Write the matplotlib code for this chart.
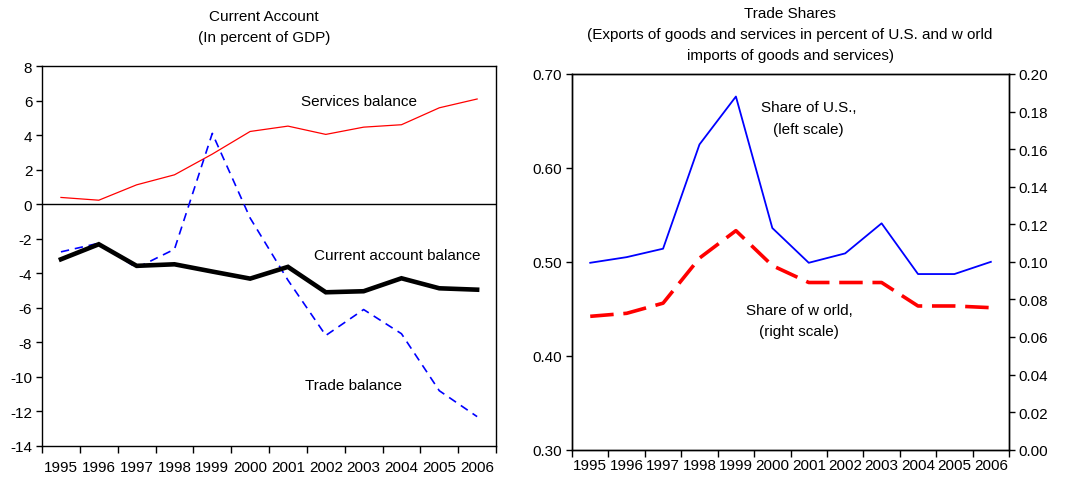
import numpy as np
import matplotlib
matplotlib.use("Agg")
import matplotlib.pyplot as plt

plt.rcParams['font.family'] = ['Liberation Sans', 'DejaVu Sans']
plt.rcParams['axes.unicode_minus'] = False

years = ['1995', '1996', '1997', '1998', '1999', '2000',
         '2001', '2002', '2003', '2004', '2005', '2006']

# left panel, percent of GDP
services_balance = [0.39, 0.23, 1.12, 1.70, 2.90, 4.21, 4.52, 4.04, 4.46, 4.60, 5.58, 6.09]
trade_balance = [-2.76, -2.26, -3.69, -2.61, 4.10, -0.80, -4.40, -7.60, -6.10, -7.50, -10.80, -12.30]
current_account = [-3.19, -2.32, -3.57, -3.48, -3.90, -4.31, -3.63, -5.10, -5.04, -4.29, -4.87, -4.95]

# right panel, trade shares
share_us = [0.499, 0.505, 0.514, 0.625, 0.676, 0.536, 0.499, 0.509, 0.541, 0.487, 0.487, 0.500]
share_world = [0.071, 0.0726, 0.078, 0.102, 0.1166, 0.098, 0.089, 0.089, 0.089, 0.0765, 0.0765, 0.0756]

x = np.arange(len(years))
FS = 11

fig = plt.figure(figsize=(10.67, 4.81), dpi=100)


def setup_xaxis(ax, pad):
    ax.set_xlim(-0.5, len(years) - 0.5)
    ax.set_xticks(np.arange(-0.5, len(years), 1.0))
    ax.set_xticklabels([])
    ax.set_xticks(x, minor=True)
    ax.set_xticklabels(years, minor=True, fontsize=FS)
    ax.tick_params(axis='x', which='major', direction='out', length=5, width=1)
    ax.tick_params(axis='x', which='minor', length=0, pad=pad)
    for s in ax.spines.values():
        s.set_linewidth(1.0)


# ---- left: current account
ax1 = fig.add_axes([0.0394, 0.0707, 0.4255, 0.7900])
ax1.axhline(0, color='black', lw=1.0)
ax1.plot(x, services_balance, color='#FF0000', lw=0.9)
ax1.plot(x, trade_balance, color='#0000FF', lw=1.2, dashes=(5, 3.5))
ax1.plot(x, current_account, color='black', lw=3.3, solid_joinstyle='miter')
ax1.set_ylim(-14, 8)
ax1.set_yticks(np.arange(-14, 9, 2))
ax1.tick_params(axis='y', direction='out', length=4, width=1, labelsize=FS, pad=3)
setup_xaxis(ax1, 10)

ax1.text(7.88, 5.99, 'Services balance', ha='center', va='center', fontsize=FS)
ax1.text(8.9, -2.94, 'Current account balance', ha='center', va='center', fontsize=FS)
ax1.text(7.72, -10.47, 'Trade balance', ha='center', va='center', fontsize=FS)

fig.text(264 / 1067, 1 - 17 / 481, 'Current Account', ha='center', va='center', fontsize=FS)
fig.text(264 / 1067, 1 - 38 / 481, '(In percent of GDP)', ha='center', va='center', fontsize=FS)

# ---- right: trade shares
ax2 = fig.add_axes([0.5361, 0.0630, 0.4096, 0.7811])
ax3 = ax2.twinx()
ax2.plot(x, share_us, color='#0000FF', lw=1.3)
ax3.plot(x, share_world, color='#FF0000', lw=2.6, dashes=(6.5, 2.7))
ax2.set_ylim(0.30, 0.70)
ax2.set_yticks(np.arange(0.30, 0.701, 0.10))
ax2.set_yticklabels([f'{v:.2f}' for v in np.arange(0.30, 0.701, 0.10)])
ax3.set_ylim(0.0, 0.20)
ax3.set_yticks(np.arange(0.0, 0.201, 0.02))
ax3.set_yticklabels([f'{v:.2f}' for v in np.arange(0.0, 0.201, 0.02)])
ax2.tick_params(axis='y', direction='out', length=4, width=1, labelsize=FS, pad=3)
ax3.tick_params(axis='y', direction='out', length=4, width=1, labelsize=FS, pad=3)
setup_xaxis(ax2, 6)
for s in ax3.spines.values():
    s.set_linewidth(1.0)

ax2.text(5.99, 0.6649, 'Share of U.S.,', ha='center', va='center', fontsize=FS)
ax2.text(5.99, 0.6414, '(left scale)', ha='center', va='center', fontsize=FS)
ax2.text(5.73, 0.4487, 'Share of w orld,', ha='center', va='center', fontsize=FS)
ax2.text(5.72, 0.4267, '(right scale)', ha='center', va='center', fontsize=FS)

fig.text(790 / 1067, 1 - 14 / 481, 'Trade Shares', ha='center', va='center', fontsize=FS)
fig.text(790 / 1067, 1 - 35 / 481, '(Exports of goods and services in percent of U.S. and w orld',
         ha='center', va='center', fontsize=FS)
fig.text(790 / 1067, 1 - 56 / 481, 'imports of goods and services)', ha='center', va='center', fontsize=FS)

fig.savefig('out.png', dpi=100)
